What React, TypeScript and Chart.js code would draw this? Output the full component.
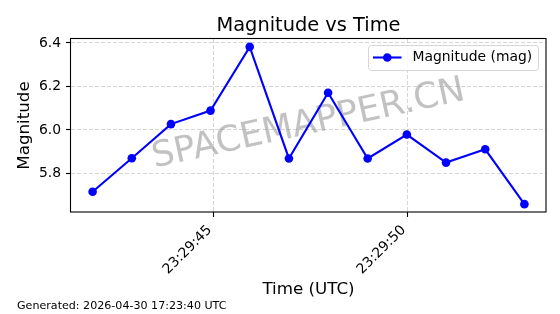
import React, { useEffect, useRef } from 'react';
import { Chart, registerables } from 'chart.js';

Chart.register(...registerables);

const times = [
  '23:29:41.88', '23:29:42.89', '23:29:43.90', '23:29:44.92', '23:29:45.93', '23:29:46.94',
  '23:29:47.95', '23:29:48.97', '23:29:49.98', '23:29:50.99', '23:29:52.00', '23:29:53.01',
];
const magnitudes = [5.716, 5.87, 6.027, 6.089, 6.382, 5.869, 6.171, 5.869, 5.979, 5.85, 5.911, 5.659];
const xTickLabels = ['23:29:45', '23:29:50'];
const yTickValues = [5.8, 6.0, 6.2, 6.4];
const seriesLabel = 'Magnitude (mag)';
const titleText = 'Magnitude vs Time';
const xTitle = 'Time (UTC)';
const yTitle = 'Magnitude';
const footerText = 'Generated: 2026-04-30 17:23:40 UTC';
const watermarkText = 'SPACEMAPPER.CN';

const FONT = '"DejaVu Sans", Verdana, sans-serif';
const BLUE = '#0000ff';

function toSec(s: string): number {
  const [h, m, sec] = s.split(':');
  return Number(h) * 3600 + Number(m) * 60 + Number(sec);
}
function pad2(n: number) {
  return String(n).padStart(2, '0');
}
function fmtTime(v: number): string {
  const t = Math.round(v);
  const h = Math.floor(t / 3600);
  const m = Math.floor((t % 3600) / 60);
  const s = t % 60;
  return `${pad2(h)}:${pad2(m)}:${pad2(s)}`;
}

const decorPlugin = {
  id: 'decor',
  beforeDatasetsDraw(chart: any) {
    const ctx = chart.ctx as CanvasRenderingContext2D;
    const a = chart.chartArea;
    ctx.save();
    ctx.translate((a.left + a.right) / 2, (a.top + a.bottom) / 2 - 1);
    ctx.rotate((-12.3 * Math.PI) / 180);
    ctx.font = `35.6px ${FONT}`;
    ctx.fillStyle = 'rgba(128,128,128,0.48)';
    ctx.textAlign = 'center';
    ctx.textBaseline = 'middle';
    ctx.fillText(watermarkText, 0, 0);
    ctx.restore();
  },
  afterDraw(chart: any) {
    const ctx = chart.ctx as CanvasRenderingContext2D;
    const a = chart.chartArea;
    const cx = (a.left + a.right) / 2;
    ctx.save();
    // frame
    ctx.strokeStyle = '#000';
    ctx.lineWidth = 1.1;
    ctx.strokeRect(a.left - 0.5, a.top - 0.5, a.right - a.left + 0.5, a.bottom - a.top + 0.5);

    // title
    ctx.fillStyle = '#000';
    ctx.textAlign = 'center';
    ctx.textBaseline = 'alphabetic';
    ctx.font = `19.4px ${FONT}`;
    ctx.fillText(titleText, cx, 31);

    // x title
    ctx.font = `16.7px ${FONT}`;
    ctx.fillText(xTitle, cx, 294);

    // y title
    ctx.save();
    ctx.translate(29, (a.top + a.bottom) / 2);
    ctx.rotate(-Math.PI / 2);
    ctx.fillText(yTitle, 0, 0);
    ctx.restore();

    // footer
    ctx.textAlign = 'left';
    ctx.font = `11.1px ${FONT}`;
    ctx.fillText(footerText, 17, 309);

    // legend
    const lx = 368.5, ly = 45.5, lw = 170, lh = 25, r = 3;
    ctx.beginPath();
    ctx.moveTo(lx + r, ly);
    ctx.lineTo(lx + lw - r, ly);
    ctx.arcTo(lx + lw, ly, lx + lw, ly + r, r);
    ctx.lineTo(lx + lw, ly + lh - r);
    ctx.arcTo(lx + lw, ly + lh, lx + lw - r, ly + lh, r);
    ctx.lineTo(lx + r, ly + lh);
    ctx.arcTo(lx, ly + lh, lx, ly + lh - r, r);
    ctx.lineTo(lx, ly + r);
    ctx.arcTo(lx, ly, lx + r, ly, r);
    ctx.closePath();
    ctx.fillStyle = 'rgba(255,255,255,0.8)';
    ctx.fill();
    ctx.strokeStyle = '#d6d6d6';
    ctx.lineWidth = 1;
    ctx.stroke();

    const my = 57.5;
    ctx.strokeStyle = BLUE;
    ctx.lineWidth = 2.1;
    ctx.beginPath();
    ctx.moveTo(373, my);
    ctx.lineTo(401.5, my);
    ctx.stroke();
    ctx.fillStyle = BLUE;
    ctx.beginPath();
    ctx.arc(387.3, my, 4.3, 0, Math.PI * 2);
    ctx.fill();

    ctx.fillStyle = '#000';
    ctx.font = `13.9px ${FONT}`;
    ctx.textAlign = 'left';
    ctx.textBaseline = 'middle';
    ctx.fillText(seriesLabel, 412.5, my);
    ctx.restore();
  },
};

export default function App() {
  const ref = useRef<HTMLCanvasElement | null>(null);

  useEffect(() => {
    if (!ref.current) return;
    const xs = times.map(toSec);
    const xMinD = Math.min(...xs), xMaxD = Math.max(...xs);
    const yMinD = Math.min(...magnitudes), yMaxD = Math.max(...magnitudes);
    const xm = (xMaxD - xMinD) * 0.05;
    const ym = (yMaxD - yMinD) * 0.05;

    const gridCommon = {
      color: 'rgba(176,176,176,0.6)',
      lineWidth: 0.9,
      drawTicks: true,
      tickLength: 5,
      tickColor: '#000',
      tickWidth: 1.1,
      tickBorderDash: [],
    };

    const chart = new Chart(ref.current, {
      type: 'line',
      data: {
        datasets: [
          {
            label: seriesLabel,
            data: xs.map((x, i) => ({ x, y: magnitudes[i] })),
            borderColor: BLUE,
            backgroundColor: BLUE,
            borderWidth: 2.1,
            pointRadius: 4.3,
            pointHoverRadius: 4.3,
            pointBackgroundColor: BLUE,
            pointBorderWidth: 0,
            tension: 0,
            fill: false,
          },
        ],
      },
      options: {
        responsive: false,
        animation: false,
        events: [],
        layout: { padding: { left: 0, top: 39, right: 14, bottom: 0 } },
        plugins: {
          legend: { display: false },
          title: { display: false },
          tooltip: { enabled: false },
        },
        scales: {
          x: {
            type: 'linear',
            min: xMinD - xm,
            max: xMaxD + xm,
            afterBuildTicks: (scale: any) => {
              scale.ticks = xTickLabels.map((l) => ({ value: toSec(l) }));
            },
            afterFit: (scale: any) => {
              scale.height = 102;
            },
            grid: gridCommon,
            border: { display: false, dash: [4, 2] },
            ticks: {
              minRotation: 45,
              maxRotation: 45,
              padding: 5,
              labelOffset: -4,
              autoSkip: false,
              color: '#000',
              font: { family: FONT, size: 13.9 },
              callback: (v: any) => fmtTime(Number(v)),
            },
          },
          y: {
            type: 'linear',
            min: yMinD - ym,
            max: yMaxD + ym,
            afterBuildTicks: (scale: any) => {
              scale.ticks = yTickValues.map((v) => ({ value: v }));
            },
            afterFit: (scale: any) => {
              scale.width = 71;
            },
            grid: gridCommon,
            border: { display: false, dash: [4, 2] },
            ticks: {
              padding: 5,
              autoSkip: false,
              color: '#000',
              font: { family: FONT, size: 13.9 },
              callback: (v: any) => Number(v).toFixed(1),
            },
          },
        },
      },
      plugins: [decorPlugin],
    } as any);
    return () => chart.destroy();
  }, []);

  return (
    <div style={{ position: 'absolute', left: 0, top: 0, width: 560, height: 314, background: '#fff' }}>
      <canvas ref={ref} width={560} height={314} style={{ display: 'block' }} />
    </div>
  );
}
